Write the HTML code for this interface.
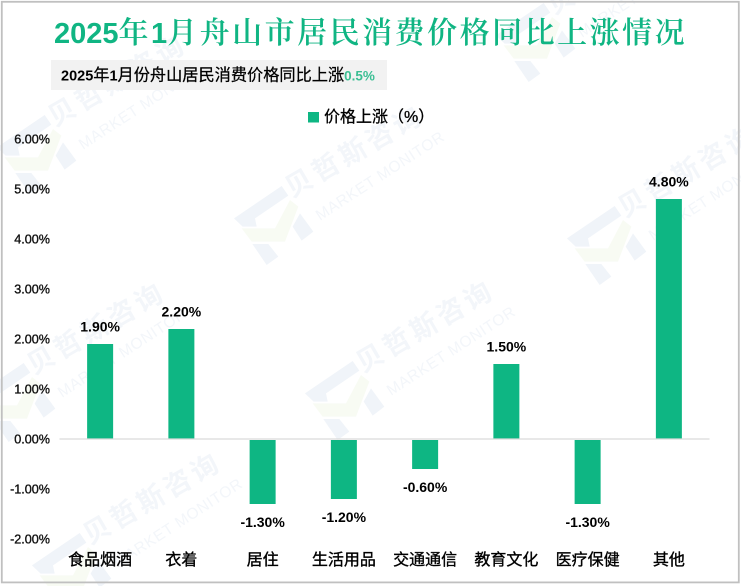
<!DOCTYPE html>
<html lang="zh-CN">
<head>
<meta charset="utf-8">
<title>2025年1月舟山市居民消费价格同比上涨情况</title>
<style>
html,body{margin:0;padding:0;background:#fff;width:741px;height:586px;overflow:hidden}
svg{display:block}
text{font-family:"Liberation Sans","Noto Sans CJK SC",sans-serif}
.cjk-serif{font-family:"Liberation Sans","Noto Serif CJK SC",serif}
</style>
</head>
<body>
<svg id="chart" xmlns="http://www.w3.org/2000/svg" width="741" height="586" viewBox="0 0 741 586">
  <rect x="0" y="0" width="741" height="586" fill="#fff"/>
  <g id="watermarks"></g>
  <rect x="1.8" y="1.8" width="737" height="580.6" fill="none" stroke="#c0c0c0" stroke-width="1.8"/>

  <text class="cjk-serif" x="54" y="43" font-size="30" fill="#10b583" font-weight="600" letter-spacing="2.5"><tspan font-family="Liberation Sans" font-weight="700" font-size="29" letter-spacing="0">2025</tspan>年<tspan font-family="Liberation Sans" font-weight="700" font-size="29" letter-spacing="0">1</tspan>月舟山市居民消费价格同比上涨情况</text>

  <rect x="51" y="60" width="336" height="30" fill="#f2f2f2"/>
  <text x="61" y="80.5" font-size="16.2" fill="#000" stroke="#000" stroke-width="0.25"><tspan font-weight="700" font-size="14.5" stroke="none">2025</tspan>年<tspan font-weight="700" font-size="14.5" stroke="none">1</tspan>月份舟山居民消费价格同比上涨<tspan font-weight="700" font-size="13.5" fill="#3cbf94" stroke="none">0.5%</tspan></text>

  <rect x="308" y="112" width="11" height="10.5" fill="#0eb683"/>
  <text x="324" y="122" font-size="16" fill="#000" stroke="#000" stroke-width="0.3">价格上涨（%）</text>

  <g id="y-axis"></g>
  <g id="bars"></g>
  <g id="x-axis"></g>
</svg>
<script>
const categories = ['食品烟酒', '衣着', '居住', '生活用品', '交通通信', '教育文化', '医疗保健', '其他'];
const priceRise = [1.9, 2.2, -1.3, -1.2, -0.6, 1.5, -1.3, 4.8];
const yTicks = [6, 5, 4, 3, 2, 1, 0, -1, -2];

const NS = 'http://www.w3.org/2000/svg';
const plotLeft = 59.5, plotRight = 709.5, zeroY = 439, pxPerUnit = 50, barWidth = 26;

function yScale(v) { return zeroY - v * pxPerUnit; }
function xScale(i) { return plotLeft + (plotRight - plotLeft) / categories.length * (i + 0.5); }
function pct(v) { return v.toFixed(2) + '%'; }
function make(tag, parent, attrs, content) {
  const el = document.createElementNS(NS, tag);
  Object.keys(attrs).forEach(function (k) { el.setAttribute(k, attrs[k]); });
  if (content !== undefined) el.textContent = content;
  parent.appendChild(el);
  return el;
}

const yAxis = document.getElementById('y-axis');
yTicks.forEach(function (t) {
  const label = make('text', yAxis, {
    x: 50, y: yScale(t) + 4.5, 'text-anchor': 'end', 'font-size': 12.6,
    fill: '#111', stroke: '#111', 'stroke-width': 0.35
  }, pct(t));
  
  
});

const barsLayer = document.getElementById('bars');
priceRise.forEach(function (v, i) {
  const top = v >= 0 ? yScale(v) : zeroY + 1;
  const h = v >= 0 ? zeroY - yScale(v) : yScale(v) - zeroY - 1;
  const bar = make('rect', barsLayer, {
    x: xScale(i) - barWidth / 2, y: top, width: barWidth, height: h, fill: '#0eb683'
  });
  
  
  const labelY = v >= 0 ? yScale(v) - 12.5 : yScale(v) + 23;
  const label = make('text', barsLayer, {
    x: xScale(i), y: labelY, 'text-anchor': 'middle', 'font-size': 14,
    'font-weight': 700, fill: '#000'
  }, pct(v));
  
  
});

const xAxis = document.getElementById('x-axis');
const axisLine = make('line', xAxis, {
  x1: plotLeft, x2: plotRight, y1: zeroY, y2: zeroY, stroke: '#d9d9d9', 'stroke-width': 1.2
});


categories.forEach(function (c, i) {
  const label = make('text', xAxis, {
    x: xScale(i), y: 565, 'text-anchor': 'middle', 'font-size': 16,
    fill: '#000', stroke: '#000', 'stroke-width': 0.35
  }, c);
  
  
});

/* Decorative brand watermark */
const wmOffsets = [[-237, -71], [0, 0], [71, 175], [333, 20], [-202, 347], [262, -183], [-258, 177]];
const wmLayer = document.getElementById('watermarks');
wmOffsets.forEach(function (o) {
  const g = make('g', wmLayer, { transform: 'translate(' + o[0] + ',' + o[1] + ')' });
  
  
  const logo = make('g', g, { transform: 'translate(220,130) scale(0.3333)' });
  make('polygon', logo, { points: '42,265 185,168 205,197 105,265 110,290 68,290', fill: '#f0f4f9' });
  make('polygon', logo, { points: '65,295 165,295 210,210 235,230 195,335 95,335', fill: '#f8fbf3' });
  make('polygon', logo, { points: '240,250 280,305 245,332 218,290', fill: '#f0f4f9' });
  make('polygon', logo, { points: '97,342 145,342 175,380 140,405', fill: '#f0f4f9' });
  make('text', g, {
    transform: 'translate(292,198) rotate(-30)', 'font-size': 27, 'letter-spacing': 4,
    'font-weight': 700, fill: '#f3f6fa'
  }, '贝哲斯咨询');
  make('text', g, {
    transform: 'translate(320,221) rotate(-33)', 'font-size': 15.5, 'letter-spacing': 0.6,
    fill: '#f3f6fa'
  }, 'MARKET MONITOR');
});
</script>
</body>
</html>
